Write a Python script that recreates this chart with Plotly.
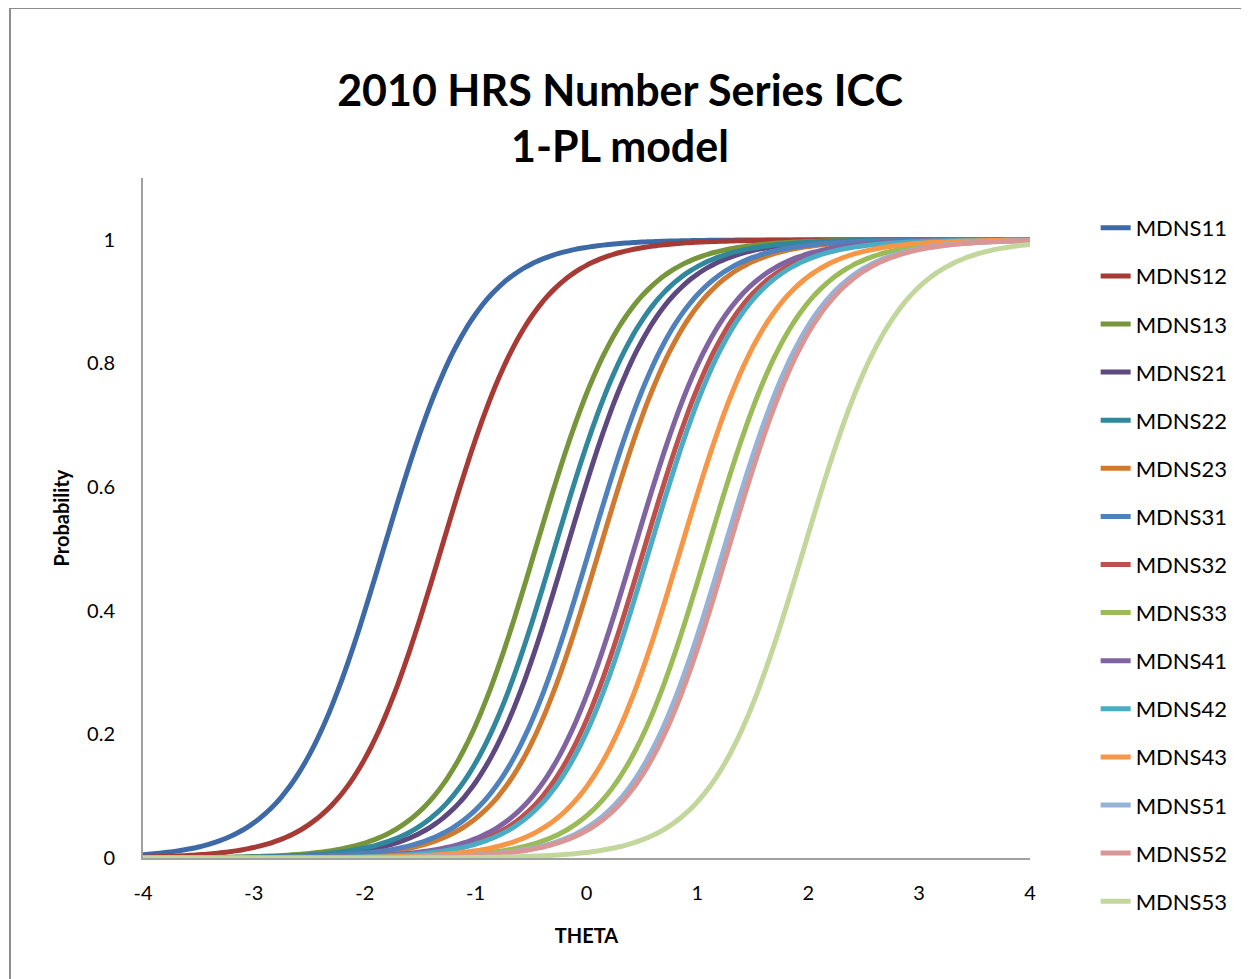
import numpy as np
import plotly.graph_objects as go

# Item names and 1-PL difficulty parameters (theta where P = 0.5)
items = ["MDNS11", "MDNS12", "MDNS13", "MDNS21", "MDNS22", "MDNS23", "MDNS31", "MDNS32",
         "MDNS33", "MDNS41", "MDNS42", "MDNS43", "MDNS51", "MDNS52", "MDNS53"]
difficulty = [-1.83, -1.31, -0.46, -0.18, -0.29, 0.12, 0.03, 0.52,
              1.09, 0.43, 0.57, 0.85, 1.24, 1.28, 1.96]
slope = 2.4  # common discrimination (D*a) of the 1-PL model
colors = ["#3D6AA6", "#A83A36", "#77953A", "#5E4880", "#31879B", "#D07A30", "#4F81BD", "#C0504D",
          "#9BBB59", "#8064A2", "#4BACC6", "#F79646", "#95B3D7", "#D99694", "#C3D69B"]
x_ticks = [-4, -3, -2, -1, 0, 1, 2, 3, 4]
x_ticktext = ["-4", "-3", "-2", "-1", "0", "1", "2", "3", "4"]
y_ticks = [0, 0.2, 0.4, 0.6, 0.8, 1]
y_ticktext = ["0", "0.2", "0.4", "0.6", "0.8", "1"]

theta = np.linspace(-4, 4, 161)

fig = go.Figure()
for name, b, c in zip(items, difficulty, colors):
    p = 1.0 / (1.0 + np.exp(-slope * (theta - b)))
    fig.add_trace(go.Scatter(x=theta, y=p, mode="lines", name=name,
                             legendgroup=name,
                             line=dict(color=c, width=5, shape="spline")))

# page body adds an 8px offset, so the figure is 8px smaller and shifted accordingly
W, H = 1241, 971
L, T = 135, 170
PW, PH = 887, 680
font_family = "Lato, 'Open Sans', sans-serif"
fig.update_layout(
    width=W, height=H,
    margin=dict(l=L, r=W - L - PW, t=T, b=H - T - PH),
    paper_bgcolor="white", plot_bgcolor="white",
    font=dict(family=font_family, color="black", size=20),
    title=dict(text="<b>2010 HRS Number Series ICC<br>1-PL model</b>",
               x=(612 / W), xanchor="center", y=1 - 98 / H, yanchor="middle",
               font=dict(size=43, family=font_family)),
    legend=dict(x=1.074, xanchor="left", y=(850 - 199) / PH, yanchor="top",
                font=dict(size=22), tracegroupgap=16.5, bgcolor="rgba(0,0,0,0)",
                maxheight=960),
    showlegend=True,
)
fig.update_xaxes(range=[-4, 4], tickmode="array", tickvals=x_ticks, ticktext=x_ticktext,
                 showgrid=False, zeroline=False, showline=True, linecolor="#A0A0A0", linewidth=2,
                 ticks="", tickfont=dict(size=20), ticklabelstandoff=16,
                 title=dict(text="<b>THETA</b>", font=dict(size=20), standoff=26))
fig.update_yaxes(range=[0, 1.1], tickmode="array", tickvals=y_ticks, ticktext=y_ticktext,
                 showgrid=False, zeroline=False, showline=True, linecolor="#A0A0A0", linewidth=2,
                 ticks="", tickfont=dict(size=20), ticklabelstandoff=22,
                 title=dict(text="<b>Probability</b>", font=dict(size=20), standoff=12))

# outer chart border
fig.add_shape(type="rect", xref="paper", yref="paper",
              x0=(2 - L) / PW, x1=(1260 - L) / PW,
              y0=(T + PH - 990) / PH, y1=(T + PH - 0) / PH,
              line=dict(color="#8C8C8C", width=2), fillcolor="rgba(0,0,0,0)", layer="below")

fig.write_html("out.html")
